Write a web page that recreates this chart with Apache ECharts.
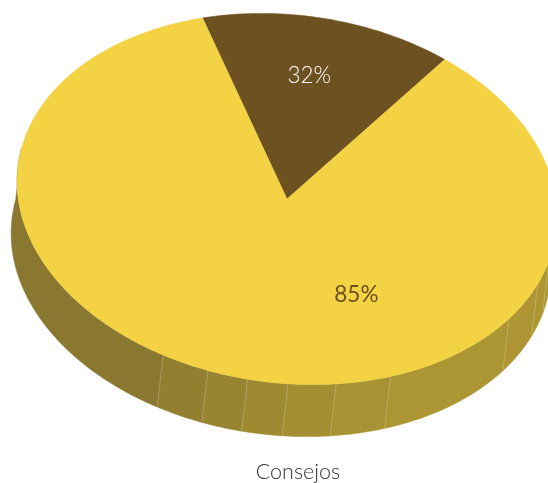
<!DOCTYPE html>
<html><head><meta charset="utf-8">
<style>html,body{margin:0;padding:0;background:#fff;overflow:hidden}#c{width:548px;height:483px}</style>
<script src="https://cdn.jsdelivr.net/npm/echarts@6/dist/echarts.min.js"></script>
</head><body><div id="c"></div>
<script>
// Data
const categories = ['Consejos', 'Resto'];
const shares = [15, 85];
const sliceLabels = ['32%', '85%'];
const sliceColors = ['#6d5120', '#f3d243'];
const labelColors = ['#ffffff', '#6d5120'];
const facetEdges = [31, 34, 36.1, 39.7, 48.8, 52.15, 55, 57.4, 59.8, 62.65, 83];
const facetColors = ['#ae9733', '#ae9733', '#ad9633', '#ac9533', '#a99233', '#a48e32', '#9f8a32', '#998432', '#928030', '#8b7830'];
const chartTitle = 'Consejos';

// Disc projection
const CX = 287, CY = 199, R = 184, A = 271, B = 184, ROT = 7 * Math.PI / 180, DX = -6, DY = 52;
function project(p) {
  const ux = (p[0] - CX) / R, uy = (p[1] - CY) / R;
  return [CX + ux * A * Math.cos(ROT) - uy * B * Math.sin(ROT),
          CY + ux * A * Math.sin(ROT) + uy * B * Math.cos(ROT)];
}
function arc(api, from, to, r) {
  const pts = [], n = Math.max(2, Math.ceil((to - from) / 0.25));
  for (let i = 0; i <= n; i++) pts.push(project(api.coord([r, from + (to - from) * i / n])));
  return pts;
}
// label placement: [value along the circle, radius fraction]
const labelSpots = [[7, 0.68], [47.4, 0.555]];

let acc = 0;
const sliceData = shares.map((s, i) => { const d = [1, acc, s, i]; acc += s; return d; });
const facetData = facetColors.map((c, i) => [1, facetEdges[i], facetEdges[i + 1], i]);

const option = {
  animation: false,
  title: { text: chartTitle, left: 293, top: 456, textAlign: 'center',
    textStyle: { fontFamily: 'Lato', fontWeight: 300, fontSize: 21.5, color: '#333333' } },
  polar: { center: [CX, CY], radius: R },
  angleAxis: { type: 'value', min: 0, max: 100, startAngle: 113, show: false },
  radiusAxis: { type: 'value', min: 0, max: 1, show: false },
  series: [
    { type: 'custom', coordinateSystem: 'polar', silent: true, z: 1,
      encode: { radius: 0, angle: 1 }, data: facetData,
      renderItem(params, api) {
        const i = api.value(3);
        const top = arc(api, api.value(1), api.value(2), 1);
        const bottom = top.map(p => [p[0] + DX, p[1] + DY]);
        const children = [{ type: 'polygon', shape: { points: top.concat(bottom.reverse()) },
          style: { fill: facetColors[i], stroke: facetColors[i], lineWidth: 0.5 } }];
        if (i > 0) {
          const e = top[0];
          children.push({ type: 'line', shape: { x1: e[0], y1: e[1], x2: e[0] + DX, y2: e[1] + DY },
            style: { stroke: 'rgba(255,255,255,0.22)', lineWidth: 0.8 }, z2: 5 });
        }
        return { type: 'group', children };
      } },
    { type: 'custom', coordinateSystem: 'polar', silent: true, z: 2,
      encode: { radius: 0, angle: 1 }, data: sliceData,
      renderItem(params, api) {
        const i = api.value(3), from = api.value(1), to = from + api.value(2);
        const pts = [project(api.coord([0, from]))].concat(arc(api, from, to, 1));
        const spot = project(api.coord([labelSpots[i][1], labelSpots[i][0]]));
        return { type: 'group', children: [
          { type: 'polygon', shape: { points: pts }, style: { fill: sliceColors[i], stroke: sliceColors[i], lineWidth: 0.5 } },
          { type: 'text', x: spot[0], y: spot[1], z2: 10, style: { text: sliceLabels[i], fill: labelColors[i],
            fontFamily: 'Lato', fontWeight: i === 1 ? 400 : 300, fontSize: 22.5, align: 'center', verticalAlign: 'middle' } }
        ] };
      } }
  ]
};
echarts.init(document.getElementById('c')).setOption(option);
</script></body></html>
